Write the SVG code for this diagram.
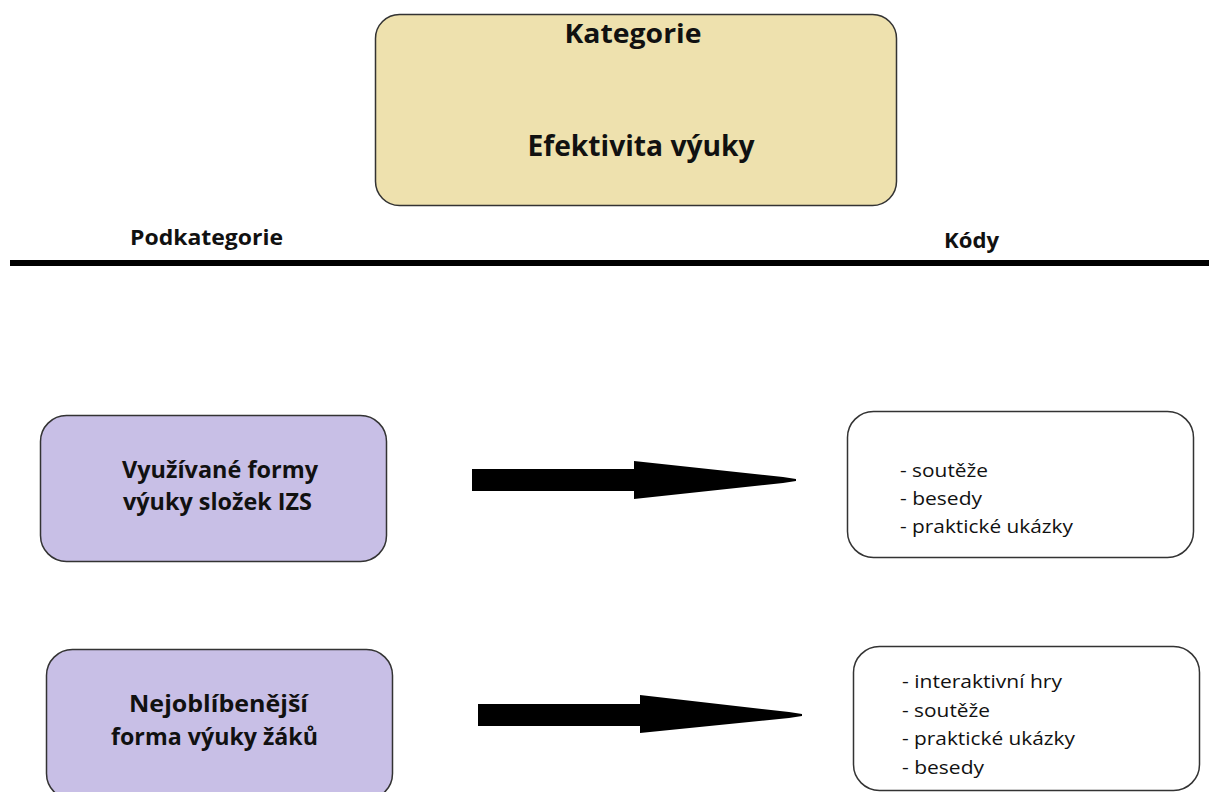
<svg xmlns="http://www.w3.org/2000/svg" width="1209" height="792" viewBox="0 0 1209 792">
<style>
.t{font-family:"Open Sans","Noto Sans","Liberation Sans",sans-serif;fill:#111}
.b{font-weight:bold}
.cat{fill:#EEE1AE;stroke:#333;stroke-width:1.5}
.sub{fill:#C8BFE6;stroke:#333;stroke-width:1.5}
.code{fill:#fff;stroke:#333;stroke-width:1.5}
</style>
<rect width="1209" height="792" fill="#fff"/>
<g id="kategorie">
<rect class="cat" x="375.5" y="14.5" width="521" height="191" rx="24"/>
<text class="t b" x="633" y="43" font-size="27" text-anchor="middle" textLength="137" lengthAdjust="spacingAndGlyphs">Kategorie</text>
<text class="t b" x="641" y="156" font-size="28" text-anchor="middle" textLength="227" lengthAdjust="spacingAndGlyphs">Efektivita výuky</text>
</g>
<g id="header">
<text class="t b" x="130" y="245" font-size="21" textLength="153" lengthAdjust="spacingAndGlyphs">Podkategorie</text>
<text class="t b" x="944" y="248" font-size="21" textLength="55" lengthAdjust="spacingAndGlyphs">Kódy</text>
<rect x="10" y="260" width="1199" height="6" fill="#000"/>
</g>
<g id="sub1">
<rect class="sub" x="40.5" y="415.5" width="346" height="146" rx="26"/>
<text class="t b" x="220" y="478" font-size="23" text-anchor="middle" textLength="196" lengthAdjust="spacingAndGlyphs">Využívané formy</text>
<text class="t b" x="217.5" y="510" font-size="23" text-anchor="middle" textLength="189" lengthAdjust="spacingAndGlyphs">výuky složek IZS</text>
</g>
<g id="sub2">
<rect class="sub" x="46.5" y="649.5" width="346" height="150" rx="26"/>
<text class="t b" x="218.5" y="712" font-size="23" text-anchor="middle" textLength="179" lengthAdjust="spacingAndGlyphs">Nejoblíbenější</text>
<text class="t b" x="214.5" y="745" font-size="23" text-anchor="middle" textLength="207" lengthAdjust="spacingAndGlyphs">forma výuky žáků</text>
</g>
<g id="codes1">
<rect class="code" x="847.5" y="411.5" width="346" height="146" rx="26"/>
<text class="t" font-size="18.5">
<tspan x="900" y="477" textLength="88" lengthAdjust="spacingAndGlyphs">- soutěže</tspan>
<tspan x="900" y="505" textLength="82" lengthAdjust="spacingAndGlyphs">- besedy</tspan>
<tspan x="900" y="533" textLength="173" lengthAdjust="spacingAndGlyphs">- praktické ukázky</tspan>
</text>
</g>
<g id="codes2">
<rect class="code" x="853.5" y="646.5" width="346" height="144" rx="26"/>
<text class="t" font-size="18.5">
<tspan x="902" y="688" textLength="160" lengthAdjust="spacingAndGlyphs">- interaktivní hry</tspan>
<tspan x="902" y="717" textLength="88" lengthAdjust="spacingAndGlyphs">- soutěže</tspan>
<tspan x="902" y="745" textLength="173" lengthAdjust="spacingAndGlyphs">- praktické ukázky</tspan>
<tspan x="902" y="774" textLength="82" lengthAdjust="spacingAndGlyphs">- besedy</tspan>
</text>
</g>
<g id="connectors" fill="#000">
<polygon points="472,469 634,469 634,461 783,477 796,479 796,481 783,483 634,499 634,491 472,491"/>
<polygon points="478,704 640,704 640,695 789,712 802,714 802,716 789,718 640,733 640,726 478,726"/>
</g>
</svg>
